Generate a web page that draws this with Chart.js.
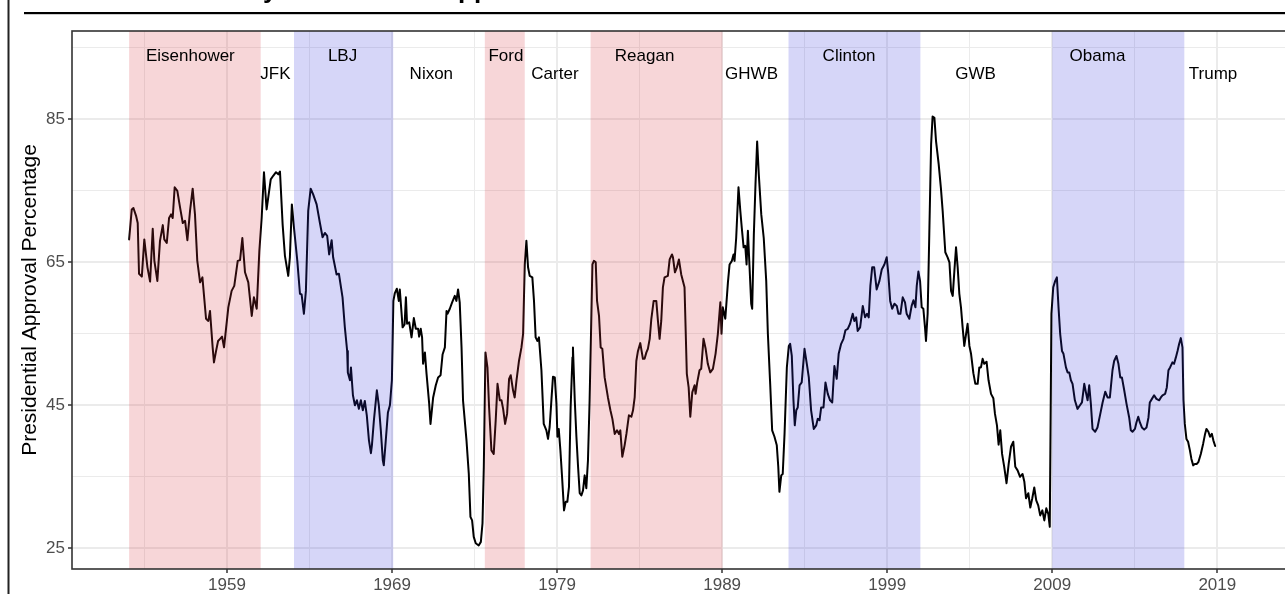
<!DOCTYPE html>
<html>
<head>
<meta charset="utf-8">
<script src="https://cdn.jsdelivr.net/npm/chart.js@4.4.1/dist/chart.umd.min.js"></script>
<style>
  html, body { margin: 0; padding: 0; background: #ffffff; overflow: hidden; }
  #wrap { position: relative; width: 1320px; height: 594px; }
  canvas { display: block; }
</style>
</head>
<body>
<div id="wrap"><canvas id="c" width="1320" height="594" style="width:1320px;height:594px"></canvas></div>
<script>
// ---------------- DATA ----------------
const years = [
  1953.07,1953.23,1953.33,1953.49,1953.59,1953.67,1953.84,1953.99,1954.18,1954.34,1954.50,1954.60,1954.78,1954.94,1955.11,1955.20,1955.35,1955.49,1955.61,1955.71,1955.83,1955.99,1956.16,1956.32,1956.46,1956.60,1956.76,1956.92,1957.06,1957.20,1957.37,1957.51,1957.73,1957.87,1957.97,1958.13,1958.21,1958.33,1958.46,1958.58,1958.70,1958.82,1959.08,1959.28,1959.44,1959.65,1959.79,1959.93,1960.09,1960.29,1960.50,1960.63,1960.80,1960.96,1961.10,
  1961.24,1961.40,1961.65,1961.80,1961.97,1962.11,1962.21,1962.37,1962.51,1962.71,1962.81,1962.93,
  1963.06,1963.26,1963.42,1963.52,1963.66,1963.78,1963.92,1964.07,1964.22,1964.43,1964.63,1964.79,1964.93,1965.07,1965.19,1965.34,1965.43,1965.64,1965.78,1966.00,1966.14,1966.28,1966.32,1966.45,1966.51,1966.63,1966.75,1966.87,1966.99,1967.11,1967.23,1967.35,1967.47,1967.60,1967.72,1967.78,1967.90,1968.02,1968.08,1968.20,1968.32,1968.44,1968.50,1968.62,1968.75,1968.87,1968.99,
  1969.08,1969.17,1969.29,1969.41,1969.47,1969.64,1969.76,1969.84,1969.91,1970.04,1970.18,1970.32,1970.44,1970.58,1970.64,1970.74,1970.82,1970.88,1970.99,1971.09,1971.25,1971.33,1971.49,1971.65,1971.79,1971.94,1972.06,1972.20,1972.30,1972.36,1972.50,1972.64,1972.80,1972.90,1973.00,1973.10,1973.21,1973.30,1973.51,1973.65,1973.75,1973.85,1973.95,1974.07,1974.25,1974.38,1974.48,1974.56,
  1974.66,1974.78,1974.88,1975.02,1975.16,1975.28,1975.39,1975.53,1975.63,1975.73,1975.85,1975.97,1976.09,1976.19,1976.33,1976.43,1976.54,1976.69,1976.84,1976.94,
  1977.04,1977.14,1977.24,1977.34,1977.50,1977.60,1977.70,1977.81,1977.90,1978.05,1978.19,1978.35,1978.45,1978.55,1978.66,1978.75,1978.86,1978.96,1979.02,1979.10,1979.20,1979.30,1979.42,1979.52,1979.62,1979.72,1979.82,1979.93,1979.96,1980.07,1980.17,1980.27,1980.37,1980.47,1980.57,1980.67,1980.77,1980.87,1980.97,
  1981.08,1981.14,1981.23,1981.34,1981.42,1981.54,1981.64,1981.74,1981.88,1982.08,1982.23,1982.35,1982.49,1982.63,1982.75,1982.83,1982.95,1983.09,1983.20,1983.35,1983.50,1983.60,1983.70,1983.80,1983.90,1984.04,1984.20,1984.30,1984.41,1984.50,1984.61,1984.71,1984.85,1985.01,1985.11,1985.21,1985.31,1985.41,1985.51,1985.71,1985.82,1985.96,1986.02,1986.14,1986.26,1986.38,1986.52,1986.72,1986.86,1986.97,1987.07,1987.19,1987.33,1987.39,1987.49,1987.63,1987.73,1987.87,1988.00,1988.13,1988.28,1988.44,1988.60,1988.74,1988.89,1988.96,1989.04,
  1989.19,1989.35,1989.45,1989.59,1989.69,1989.75,1989.85,1989.99,1990.10,1990.19,1990.30,1990.40,1990.48,1990.56,1990.66,1990.76,1990.82,1990.92,1991.02,1991.12,1991.22,1991.37,1991.52,1991.67,1991.77,1991.91,1992.03,1992.17,1992.31,1992.40,1992.47,1992.58,1992.67,1992.78,1992.92,
  1993.04,1993.12,1993.22,1993.32,1993.40,1993.49,1993.58,1993.69,1993.82,1993.99,1994.13,1994.25,1994.39,1994.55,1994.70,1994.79,1994.90,1995.00,1995.14,1995.26,1995.40,1995.54,1995.67,1995.80,1995.94,1996.06,1996.21,1996.35,1996.47,1996.61,1996.75,1996.91,1997.01,1997.12,1997.21,1997.36,1997.52,1997.66,1997.78,1997.88,1997.98,1998.09,1998.21,1998.36,1998.53,1998.67,1998.83,1998.97,1999.07,1999.18,1999.30,1999.44,1999.58,1999.68,1999.80,1999.94,2000.08,2000.18,2000.34,2000.48,2000.59,2000.71,2000.79,2000.89,2000.99,
  2001.09,2001.19,2001.29,2001.35,2001.45,2001.55,2001.66,2001.75,2001.86,2001.96,2002.12,2002.26,2002.36,2002.52,2002.66,2002.77,2002.87,2002.97,2003.07,2003.17,2003.27,2003.37,2003.47,2003.57,2003.67,2003.78,2003.87,2003.98,2004.08,2004.22,2004.34,2004.48,2004.58,2004.68,2004.78,2004.88,2005.02,2005.14,2005.29,2005.43,2005.53,2005.65,2005.75,2005.85,2005.96,2006.09,2006.23,2006.36,2006.50,2006.64,2006.76,2006.90,2007.05,2007.20,2007.31,2007.41,2007.55,2007.67,2007.79,2007.91,2008.03,2008.15,2008.27,2008.40,2008.52,2008.64,2008.76,2008.85,
  2008.95,2009.06,2009.18,2009.28,2009.38,2009.48,2009.59,2009.68,2009.83,2009.93,2010.03,2010.13,2010.23,2010.37,2010.53,2010.68,2010.80,2010.94,2011.04,2011.14,2011.24,2011.34,2011.44,2011.60,2011.74,2011.91,2012.05,2012.21,2012.35,2012.49,2012.65,2012.75,2012.89,2013.01,2013.12,2013.22,2013.36,2013.50,2013.66,2013.76,2013.86,2014.01,2014.10,2014.21,2014.31,2014.43,2014.57,2014.71,2014.83,2014.91,2015.04,2015.17,2015.31,2015.48,2015.58,2015.68,2015.84,2015.94,2016.04,2016.14,2016.28,2016.38,2016.49,2016.59,2016.69,2016.79,2016.89,
  2016.95,2017.03,2017.13,2017.23,2017.34,2017.43,2017.54,2017.64,2017.76,2017.86,2018.00,2018.14,2018.26,2018.34,2018.46,2018.56,2018.67,2018.76,2018.87
];
const approval = [
  68.2,72.4,72.6,71.5,70.5,63.4,63.0,68.2,64.3,62.3,69.7,65.2,62.4,68.0,70.2,68.2,67.7,71.2,71.7,71.2,75.5,75.0,72.6,70.5,70.8,68.1,72.2,75.3,71.7,65.2,62.2,62.9,57.1,56.8,58.2,53.1,51.0,52.5,54.0,54.3,54.6,53.1,58.7,61.0,61.7,65.2,65.3,68.4,63.6,62.2,57.5,60.1,58.5,66.6,71.2,
  77.6,72.4,76.6,77.1,77.6,77.3,77.7,70.3,65.9,63.1,65.7,73.1,
  69.8,65.2,60.6,60.5,57.8,61.0,72.2,75.3,74.5,73.1,70.5,68.5,69.1,68.7,66.1,68.1,65.7,63.3,63.4,60.1,55.9,52.6,49.6,48.5,50.3,46.4,45.0,45.7,44.5,45.7,44.3,45.6,43.6,40.1,38.3,39.4,42.9,45.7,47.1,45.0,41.5,37.3,36.6,40.1,44.0,45.0,48.5,
  59.6,60.7,61.3,59.6,61.2,55.9,56.3,60.1,56.4,56.6,54.5,57.2,55.7,55.7,54.6,55.7,54.5,50.8,52.4,49.4,45.2,42.4,46.1,47.8,48.9,49.2,52.1,53.1,58.2,57.8,58.5,59.4,60.3,59.6,61.2,59.4,53.1,45.7,40.1,35.4,29.4,28.9,26.6,25.7,25.4,25.9,28.5,36.4,
  52.4,50.3,44.7,38.7,38.2,42.9,48.0,45.7,45.7,44.5,42.4,43.8,48.7,49.2,47.1,46.1,48.5,51.2,53.1,55.0,
  64.7,68.0,64.3,63.1,62.9,59.6,54.5,54.0,54.5,49.9,42.4,41.5,40.3,42.0,45.9,49.0,48.9,45.2,40.6,41.7,38.7,35.0,30.3,31.5,31.5,33.6,44.7,51.7,53.1,45.7,40.6,36.4,32.7,32.4,33.1,35.2,33.4,37.3,45.7,
  57.8,64.7,65.2,65.0,59.6,57.5,53.1,52.9,48.9,46.1,44.3,43.1,41.0,41.5,41.0,41.5,37.8,39.4,41.0,43.6,43.4,44.3,46.1,51.2,52.6,53.7,51.5,51.5,52.4,52.9,54.3,57.1,59.6,59.6,56.8,54.3,56.8,61.5,62.9,63.1,65.4,66.1,65.7,63.6,64.3,65.4,63.3,61.5,49.4,47.5,43.4,46.8,47.8,46.6,48.2,49.9,50.1,54.3,52.9,50.8,49.6,50.1,52.2,55.0,59.4,55.0,58.7,
  57.1,62.2,64.7,65.2,66.1,65.2,68.4,75.5,72.2,69.8,67.1,67.3,64.7,69.4,64.3,59.2,58.5,68.9,75.9,81.9,77.3,71.7,68.4,62.4,55.0,48.0,41.5,40.6,39.4,36.4,32.9,35.2,35.4,41.0,50.3,
  53.3,53.6,51.9,45.7,42.2,44.3,44.7,47.8,48.2,52.9,50.8,48.9,44.3,41.7,42.2,43.1,42.9,44.7,44.7,48.2,46.6,45.7,45.4,50.5,48.7,52.2,53.6,54.3,55.5,55.7,56.4,57.8,56.8,57.3,55.4,55.9,58.9,57.3,57.8,57.3,61.7,64.3,64.3,61.2,62.4,64.0,64.7,65.7,63.3,59.6,58.5,59.2,58.9,57.8,57.8,60.1,59.4,57.8,57.1,58.9,59.7,58.7,61.7,63.7,62.4,
  58.7,58.5,55.9,54.0,57.8,68.9,81.5,85.4,85.2,81.9,78.7,75.2,72.2,66.4,65.7,65.0,61.0,60.3,63.8,67.1,64.3,60.6,58.7,55.9,53.3,55.0,56.4,53.3,52.2,49.5,48.0,48.0,50.3,50.3,51.5,50.8,51.1,48.5,46.6,46.0,43.8,42.2,39.5,41.5,38.2,36.4,34.1,36.8,39.2,39.9,36.4,35.9,35.0,35.4,34.3,32.0,32.7,30.7,32.0,33.5,31.7,31.0,29.6,30.3,28.9,30.6,29.8,28.0,
  57.8,61.5,62.4,62.9,58.7,55.0,52.6,52.2,50.3,49.6,49.6,48.5,48.0,45.7,44.5,45.0,45.4,48.0,46.8,45.7,47.8,45.2,41.7,41.3,41.9,43.8,45.4,46.9,46.1,46.1,49.9,51.2,51.9,50.8,48.9,48.9,47.1,45.2,43.3,41.5,41.3,41.7,42.6,43.4,42.6,41.9,41.6,41.9,43.3,45.4,45.9,46.4,45.9,45.7,46.1,46.4,46.6,47.5,49.9,50.3,51.0,50.8,51.7,52.6,53.6,54.4,53.1,
  45.7,42.4,40.3,39.9,38.7,37.5,36.6,36.8,36.8,37.1,38.2,39.6,41.0,41.7,41.3,40.6,41.0,40.1,39.3
];

// Shaded presidential terms (alternate presidents), coloured by party
const termStart = [1953.07, 1963.06, 1974.62, 1981.03, 1993.02, 2009.00];
const termEnd   = [1961.04, 1969.07, 1977.04, 1989.02, 2001.01, 2017.00];
const termParty = ['R', 'D', 'R', 'R', 'D', 'D'];

// President labels
const presNames   = ['Eisenhower','JFK','LBJ','Nixon','Ford','Carter','Reagan','GHWB','Clinton','GWB','Obama','Trump'];
const labelYears  = [1956.78, 1961.93, 1966.00, 1971.38, 1975.90, 1978.87, 1984.30, 1990.78, 1996.69, 2004.35, 2011.74, 2018.74];
const labelLevels = [93.85, 91.34, 93.85, 91.34, 93.85, 91.34, 93.85, 91.34, 93.85, 91.34, 93.85, 91.34];

// Axis ticks
const xMajorTicks = [1959, 1969, 1979, 1989, 1999, 2009, 2019];
const xMinorTicks = [1954, 1964, 1974, 1984, 1994, 2004, 2014, 2024];
const yMajorTicks = [25, 45, 65, 85];
const yMinorTicks = [35, 55, 75, 95];

const titleText = 'Monthly Presidential Approval';
const yTitleText = 'Presidential Approval Percentage';

// ---------------- RENDERING ----------------
const FONT = "'Liberation Sans', Arial, Helvetica, sans-serif";
const partyFill = { R: 'rgba(215, 50, 60, 0.2)', D: 'rgba(50, 50, 220, 0.2)' };

const shadePlugin = {
  id: 'shade',
  afterDatasetsDraw(chart) {
    const { ctx, chartArea: a, scales: { x, y } } = chart;
    ctx.save();
    ctx.beginPath(); ctx.rect(a.left, a.top, a.right - a.left, a.bottom - a.top); ctx.clip();
    for (let i = 0; i < termStart.length; i++) {
      const x0 = x.getPixelForValue(termStart[i]);
      const x1 = x.getPixelForValue(termEnd[i]);
      ctx.fillStyle = partyFill[termParty[i]];
      ctx.fillRect(x0, a.top, x1 - x0, a.bottom - a.top);
    }
    ctx.fillStyle = '#000';
    ctx.font = '17px ' + FONT;
    ctx.textAlign = 'center';
    ctx.textBaseline = 'middle';
    for (let i = 0; i < presNames.length; i++) {
      ctx.fillText(presNames[i], x.getPixelForValue(labelYears[i]), y.getPixelForValue(labelLevels[i]));
    }
    ctx.restore();
  },
  afterDraw(chart) {
    const { ctx, chartArea: a } = chart;
    ctx.save();
    // panel border
    ctx.strokeStyle = '#333333';
    ctx.lineWidth = 1.6;
    ctx.strokeRect(a.left, a.top, a.right - a.left, a.bottom - a.top);
    // outer frame lines
    ctx.fillStyle = '#222';
    ctx.fillRect(7.5, 0, 2, 594);
    ctx.fillStyle = '#000';
    ctx.fillRect(24, 12, 1300, 2.2);
    // title (mostly above the visible area)
    ctx.font = 'bold 26px ' + FONT;
    ctx.textBaseline = 'alphabetic';
    ctx.textAlign = 'left';
    const pre = ctx.measureText('Monthl').width;
    ctx.fillText(titleText, 263 - pre, -2.5);
    ctx.restore();
  }
};

const xAll = [...xMinorTicks, ...xMajorTicks].sort((a, b) => a - b);
const yAll = [...yMinorTicks, ...yMajorTicks].sort((a, b) => a - b);

new Chart(document.getElementById('c'), {
  type: 'line',
  data: {
    datasets: [{
      data: years.map((v, i) => ({ x: v, y: approval[i] })),
      borderColor: '#000000',
      borderWidth: 2,
      pointRadius: 0,
      tension: 0,
      fill: false,
      borderJoinStyle: 'round',
      borderCapStyle: 'round'
    }]
  },
  options: {
    responsive: false,
    animation: false,
    devicePixelRatio: 1,
    layout: { padding: { top: 31, left: 0, right: 12, bottom: 0 } },
    plugins: { legend: { display: false }, tooltip: { enabled: false }, title: { display: false } },
    scales: {
      x: {
        type: 'linear',
        min: 1949.609,
        max: 2024.495,
        afterBuildTicks: s => { s.ticks = xAll.map(v => ({ value: v })); },
        afterFit: s => { s.height = 25; },
        ticks: {
          autoSkip: false, maxRotation: 0, minRotation: 0,
          color: '#4D4D4D', font: { family: FONT, size: 17 }, padding: 2,
          callback: v => xMajorTicks.includes(v) ? String(v) : ''
        },
        grid: {
          color: '#EBEBEB',
          lineWidth: c => (c.tick && xMajorTicks.includes(c.tick.value)) ? 2 : 1,
          tickColor: c => (c.tick && xMajorTicks.includes(c.tick.value)) ? '#333333' : 'rgba(0,0,0,0)',
          tickLength: 4, tickWidth: 1.5, drawTicks: true
        },
        border: { display: false }
      },
      y: {
        type: 'linear',
        min: 22.105,
        max: 97.35,
        afterBuildTicks: s => { s.ticks = yAll.map(v => ({ value: v })); },
        afterFit: s => { s.width = 72; },
        ticks: {
          autoSkip: false,
          color: '#4D4D4D', font: { family: FONT, size: 17 }, padding: 3,
          callback: v => yMajorTicks.includes(v) ? String(v) : ''
        },
        grid: {
          color: '#EBEBEB',
          lineWidth: c => (c.tick && yMajorTicks.includes(c.tick.value)) ? 2 : 1,
          tickColor: c => (c.tick && yMajorTicks.includes(c.tick.value)) ? '#333333' : 'rgba(0,0,0,0)',
          tickLength: 4, tickWidth: 1.5, drawTicks: true
        },
        border: { display: false },
        title: {
          display: true, text: yTitleText, color: '#000000',
          font: { family: FONT, size: 21 }, padding: { top: 18, bottom: 0 }
        }
      }
    }
  },
  plugins: [shadePlugin]
});
</script>
</body>
</html>
